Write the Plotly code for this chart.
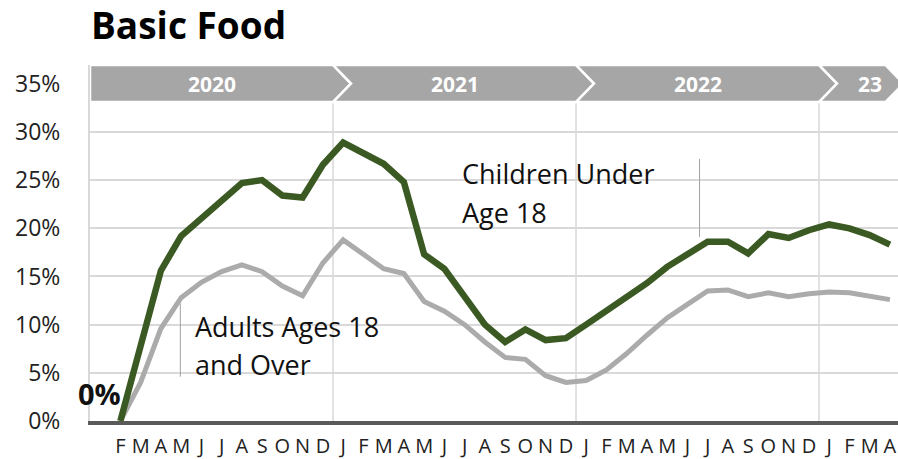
import plotly.graph_objects as go

# ---------------- data ----------------
months = ["F", "M", "A", "M", "J", "J", "A", "S", "O", "N", "D",
          "J", "F", "M", "A", "M", "J", "J", "A", "S", "O", "N", "D",
          "J", "F", "M", "A", "M", "J", "J", "A", "S", "O", "N", "D",
          "J", "F", "M", "A"]
years = ["2020"] * 11 + ["2021"] * 12 + ["2022"] * 12 + ["2023"] * 4
year_labels = ["2020", "2021", "2022", "23"]

children = [0.0, 7.6, 15.6, 19.2, 21.1, 22.8, 24.7, 25.0, 23.4, 23.2, 26.6,
            28.9, 27.8, 26.7, 24.8, 17.3, 15.8, 13.0, 10.0, 8.2, 9.5, 8.4, 8.6,
            10.0, 11.4, 12.8, 14.3, 16.0, 17.3, 18.6, 18.6, 17.4, 19.4, 19.0, 19.8,
            20.4, 20.0, 19.3, 18.3]
adults = [0.0, 4.0, 9.6, 12.8, 14.4, 15.5, 16.2, 15.5, 14.0, 13.0, 16.4,
          18.8, 17.3, 15.8, 15.3, 12.4, 11.4, 10.0, 8.2, 6.6, 6.4, 4.7, 4.0,
          4.2, 5.3, 7.0, 8.9, 10.7, 12.1, 13.5, 13.6, 12.9, 13.3, 12.9, 13.2,
          13.4, 13.3, 13.0, 12.6]

y_ticks = [0, 5, 10, 15, 20, 25, 30, 35]

# ---------------- style ----------------
GREEN = "#3B5A23"
GRAY_LINE = "#ABABAB"
BANNER = "#A6A6A6"
GRID = "#D9D9D9"
FONT = "Open Sans"

x = list(range(len(months)))
XR = [-1.5, 38.4]
YR = [0, 36.95]
BAN_BOT = 33.1
DEPTH = 0.89

fig = go.Figure()
fig.add_trace(go.Scatter(x=x, y=adults, mode="lines", name="Adults Ages 18 and Over",
                         line=dict(color=GRAY_LINE, width=5), hoverinfo="skip"))
fig.add_trace(go.Scatter(x=x, y=children, mode="lines", name="Children Under Age 18",
                         line=dict(color=GREEN, width=6.5), hoverinfo="skip"))

# year boundaries
bounds = [i - 0.5 for i in range(1, len(years)) if years[i] != years[i - 1]]

shapes = []
for b in bounds:
    shapes.append(dict(type="line", xref="x", yref="y", x0=b, x1=b, y0=0, y1=BAN_BOT,
                       line=dict(color=GRID, width=1.5), layer="below"))

# chevron banner
starts = [XR[0]] + bounds
ends = bounds + [37.78]
mid = (BAN_BOT + YR[1]) / 2
for k, (s, e) in enumerate(zip(starts, ends)):
    top, bot = YR[1], BAN_BOT
    if k == 0:
        path = f"M{s},{top} L{e},{top} L{e + DEPTH},{mid} L{e},{bot} L{s},{bot} Z"
    else:
        path = (f"M{s},{top} L{e},{top} L{e + DEPTH},{mid} L{e},{bot} "
                f"L{s},{bot} L{s + DEPTH},{mid} Z")
    shapes.append(dict(type="path", xref="x", yref="y", path=path,
                       fillcolor=BANNER, line=dict(color="white", width=2.5), layer="above"))

# leader lines
shapes.append(dict(type="line", xref="x", yref="y", x0=28.6, x1=28.6, y0=19.1, y1=27.2,
                   line=dict(color="#A0A0A0", width=1)))
shapes.append(dict(type="line", xref="x", yref="y", x0=2.96, x1=2.96, y0=4.6, y1=12.2,
                   line=dict(color="#A0A0A0", width=1)))

annotations = []
label_x = [(s + e) / 2 for s, e in zip(starts, ends)]
label_x[-1] = (starts[-1] + DEPTH + ends[-1] + DEPTH) / 2
for lx, lab in zip(label_x, year_labels):
    annotations.append(dict(x=lx, y=mid, xref="x", yref="y", text=f"<b>{lab}</b>",
                            showarrow=False, font=dict(family=FONT, size=21, color="white")))

def txt(xv, yv, t, size=27, anchor="left", bold=False):
    annotations.append(dict(x=xv, y=yv, xref="x", yref="y", text=(f"<b>{t}</b>" if bold else t),
                            showarrow=False, xanchor=anchor, yanchor="middle",
                            font=dict(family=FONT, size=size, color="#111111")))

txt(16.75, 25.7, "Children Under")
txt(16.75, 21.6, "Age 18")
txt(3.6, 9.8, "Adults Ages 18")
txt(3.6, 5.9, "and Over")
txt(0.15, 2.9, "0%", size=29, anchor="right", bold=True)

fig.update_layout(
    width=898, height=459,
    margin=dict(l=90, r=0, t=65, b=36),
    paper_bgcolor="white", plot_bgcolor="white",
    showlegend=False,
    title=dict(text="<b>Basic Food</b>", x=91 / 898, xref="container", xanchor="left",
               y=1 - 26 / 459, yref="container", yanchor="middle",
               font=dict(family=FONT, size=37, color="black")),
    shapes=shapes,
    annotations=annotations,
    xaxis=dict(range=XR, tickmode="array", tickvals=x, ticktext=months,
               showgrid=False, zeroline=False, showline=True, linecolor="#5A5A5A",
               linewidth=3.5, ticks="", ticklabelstandoff=4,
               tickfont=dict(family=FONT, size=20, color="#222222")),
    yaxis=dict(range=YR, tickmode="array", tickvals=y_ticks,
               ticktext=[f"{v}%" for v in y_ticks],
               showgrid=True, gridcolor=GRID, gridwidth=2, zeroline=False,
               showline=True, linecolor=GRID, linewidth=2, ticks="",
               ticklabelstandoff=23,
               tickfont=dict(family=FONT, size=23, color="#222222")),
)

fig.write_html("out.html", config={"displayModeBar": False},
               post_script="document.body.style.margin='0';document.body.style.overflow='hidden';")
